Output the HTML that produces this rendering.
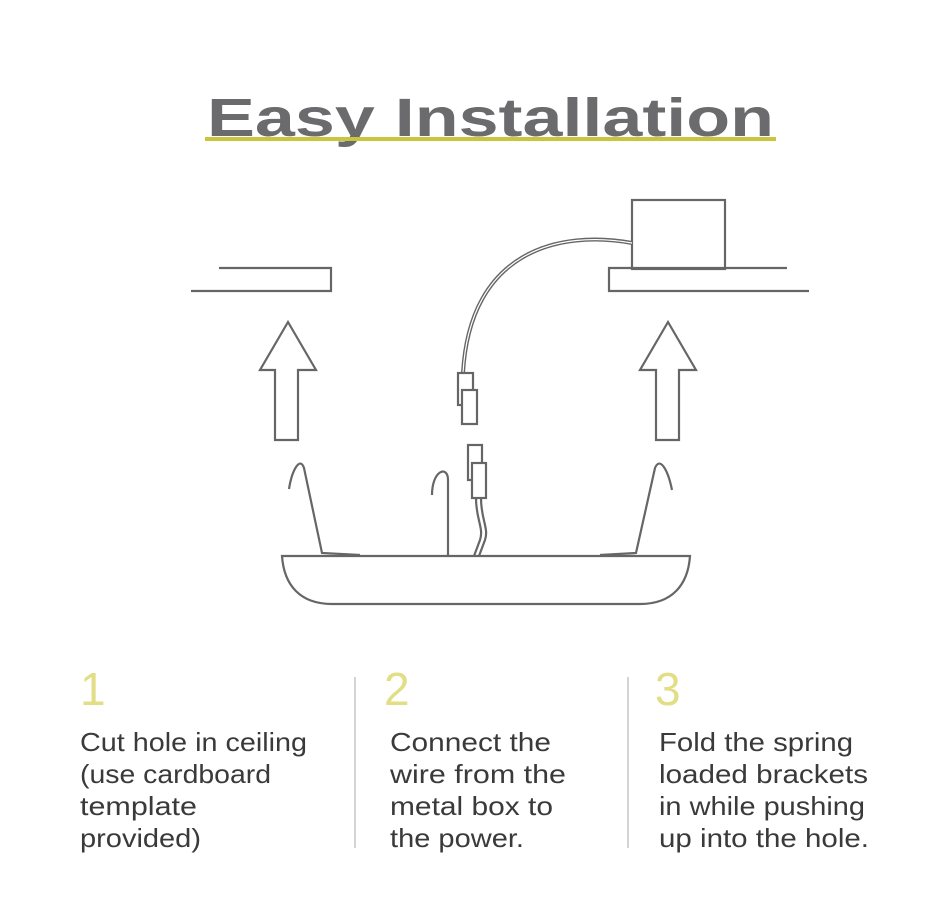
<!DOCTYPE html>
<html><head><style>
html,body{margin:0;padding:0;background:#fff;}
svg{display:block;}
</style></head><body>
<svg width="950" height="903" viewBox="0 0 950 903" xmlns="http://www.w3.org/2000/svg">
<rect width="950" height="903" fill="#fff"/>
<text x="207" y="136" font-family="Liberation Sans, sans-serif" font-weight="bold" font-size="54" fill="#6b6b6e" textLength="567" lengthAdjust="spacingAndGlyphs">Easy Installation</text>
<rect x="205" y="137" width="571" height="4" fill="#c9c53c"/>
<g fill="none" stroke="#666" stroke-width="2.2">
<polyline points="219,268 331,268 331,291 191,291"/>
<polyline points="787,268 609,268 609,291 809,291"/>
<rect x="632" y="200" width="93" height="69"/>
<polygon points="288,322 316,370 298,370 298,440 275,440 275,370 260,370"/>
<polygon points="668,322 696,370 679,370 679,440 656,440 656,370 640,370"/>
<path d="M282,556 L690,556 C688,585 672,604 640,604 L332,604 C300,604 284,585 282,556 Z"/>
<path d="M632,243 C560,230 470,250 463,373" stroke-width="4"/>
<path d="M632,243 C560,230 470,250 463,373" stroke="#fff" stroke-width="1.2"/>
<rect x="458" y="373" width="15" height="32" fill="#fff"/>
<rect x="462" y="390" width="15" height="34" fill="#fff"/>
<rect x="468" y="445" width="14" height="35" fill="#fff"/>
<rect x="472" y="463" width="14" height="35" fill="#fff"/>
<path d="M476,498 C476,520 484,528 480,540 L474,556"/>
<path d="M481,498 C481,520 489,528 485,540 L479,556"/>
<path d="M289,489 C292,470 300,456 304,468 L322,553 L360,555"/>
<path d="M432,495 C432,470 448,465 448,480 L448,556"/>
<path d="M672,490 C668,470 660,456 655,468 L636,553 L600,555"/>
</g>
<g font-family="Liberation Sans, sans-serif">
<text x="80" y="705" font-size="46" fill="#e2de85">1</text>
<text x="384" y="705" font-size="46" fill="#e2de85">2</text>
<text x="655" y="705" font-size="46" fill="#e2de85">3</text>
<line x1="355" y1="677" x2="355" y2="848" stroke="#aaa" stroke-width="1"/>
<line x1="628" y1="677" x2="628" y2="848" stroke="#aaa" stroke-width="1"/>
<g font-size="26" fill="#3a3a3a">
<text x="80" y="751" textLength="227" lengthAdjust="spacingAndGlyphs">Cut hole in ceiling</text>
<text x="80" y="783" textLength="191" lengthAdjust="spacingAndGlyphs">(use cardboard</text>
<text x="80" y="815" textLength="117" lengthAdjust="spacingAndGlyphs">template</text>
<text x="80" y="847" textLength="121" lengthAdjust="spacingAndGlyphs">provided)</text>
<text x="390" y="751" textLength="161" lengthAdjust="spacingAndGlyphs">Connect the</text>
<text x="390" y="783" textLength="176" lengthAdjust="spacingAndGlyphs">wire from the</text>
<text x="390" y="815" textLength="163" lengthAdjust="spacingAndGlyphs">metal box to</text>
<text x="390" y="847" textLength="134" lengthAdjust="spacingAndGlyphs">the power.</text>
<text x="659" y="751" textLength="194" lengthAdjust="spacingAndGlyphs">Fold the spring</text>
<text x="659" y="783" textLength="209" lengthAdjust="spacingAndGlyphs">loaded brackets</text>
<text x="659" y="815" textLength="206" lengthAdjust="spacingAndGlyphs">in while pushing</text>
<text x="659" y="847" textLength="210" lengthAdjust="spacingAndGlyphs">up into the hole.</text>
</g>
</g>
</svg>
</body></html>
